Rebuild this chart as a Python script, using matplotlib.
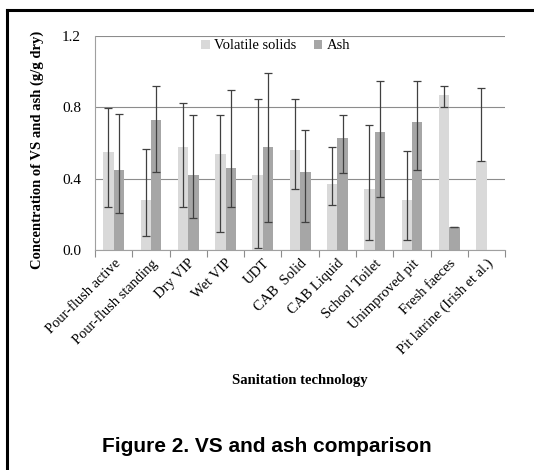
import numpy as np
import matplotlib
matplotlib.use("Agg")
import matplotlib.pyplot as plt
from matplotlib.lines import Line2D

categories = ['Pour-flush active', 'Pour-flush standing', 'Dry VIP', 'Wet VIP', 'UDT',
              'CAB  Solid', 'CAB Liquid', 'School Toilet', 'Unimproved pit',
              'Fresh faeces', 'Pit latrine (Irish et al.)']

vs_mean = [0.55, 0.28, 0.58, 0.54, 0.42, 0.56, 0.37, 0.34, 0.28, 0.87, 0.50]
vs_low = [0.24, 0.08, 0.24, 0.10, 0.01, 0.34, 0.25, 0.055, 0.055, 0.80, 0.50]
vs_high = [0.795, 0.565, 0.825, 0.76, 0.845, 0.845, 0.58, 0.70, 0.555, 0.92, 0.91]

ash_mean = [0.45, 0.73, 0.42, 0.46, 0.58, 0.44, 0.63, 0.66, 0.72, 0.13, np.nan]
ash_low = [0.21, 0.44, 0.18, 0.24, 0.16, 0.16, 0.43, 0.30, 0.45, 0.13, np.nan]
ash_high = [0.765, 0.92, 0.76, 0.90, 0.995, 0.675, 0.755, 0.95, 0.95, 0.13, np.nan]

yticks = [0.0, 0.4, 0.8, 1.2]

plt.rcParams['font.family'] = ['Liberation Serif', 'DejaVu Serif']

fig = plt.figure(figsize=(5.34, 4.70), dpi=100)
ax = fig.add_axes([0.178, 0.468, 0.768, 0.455])

x = np.arange(len(categories))
w = 0.28

def err(mean, low, high):
    mean, low, high = map(np.asarray, (mean, low, high))
    return np.vstack([mean - low, high - mean])

ekw = dict(ecolor='#404040', elinewidth=0.9, capsize=3, capthick=0.9)
ax.bar(x - w / 2, vs_mean, w, color='#d9d9d9', label='Volatile solids',
       yerr=err(vs_mean, vs_low, vs_high), error_kw=ekw, zorder=2)
ax.bar(x + w / 2, ash_mean, w, color='#a6a6a6', label='Ash',
       yerr=err(ash_mean, ash_low, ash_high), error_kw=ekw, zorder=2)

ax.set_xlim(-0.5, len(categories) - 0.5)
ax.set_ylim(0, 1.2)
ax.set_yticks(yticks)
ax.set_yticklabels([f'{t:.1f}' for t in yticks], fontsize=11)
ax.tick_params(axis='y', length=0, pad=10)
ax.yaxis.grid(True, color='#8c8c8c', linewidth=0.8, zorder=0)
ax.set_axisbelow(True)

ax.set_xticks(x)
ax.set_xticklabels(categories, rotation=45, ha='right', rotation_mode='anchor', fontsize=10.5)
ax.tick_params(axis='x', which='major', length=0, pad=5)
ax.set_xticks(np.arange(-0.5, len(categories)), minor=True)
ax.tick_params(axis='x', which='minor', length=5, color='#8c8c8c', width=0.8)

for s in ['top', 'right']:
    ax.spines[s].set_visible(False)
for s in ['left', 'bottom']:
    ax.spines[s].set_color('#a0a0a0')
    ax.spines[s].set_linewidth(0.8)

ax.set_ylabel('Concentration of VS and ash (g/g dry)', fontsize=10.5, fontweight='bold')
ax.yaxis.set_label_coords(-0.125, 0.47)
ax.set_xlabel('Sanitation technology', fontsize=10.5, fontweight='bold')
ax.xaxis.set_label_coords(0.5, -0.58)

ax.legend(loc='center', bbox_to_anchor=(0.44, 0.955), ncol=2, frameon=False,
          fontsize=10.5, handlelength=0.6, handleheight=0.6, handletextpad=0.3,
          columnspacing=1.2)

fig.text(0.5, 0.049, 'Figure 2. VS and ash comparison', ha='center', va='center',
         fontsize=15, fontweight='bold', family=['Liberation Sans', 'DejaVu Sans'])

# partial frame: top and left edges
fig.add_artist(Line2D([7 / 534, 1], [1 - 10 / 470, 1 - 10 / 470], color='black', lw=2.2,
                      transform=fig.transFigure))
fig.add_artist(Line2D([7 / 534, 7 / 534], [0, 1 - 10 / 470], color='black', lw=2.2,
                      transform=fig.transFigure))

fig.savefig('out.png', dpi=100)
